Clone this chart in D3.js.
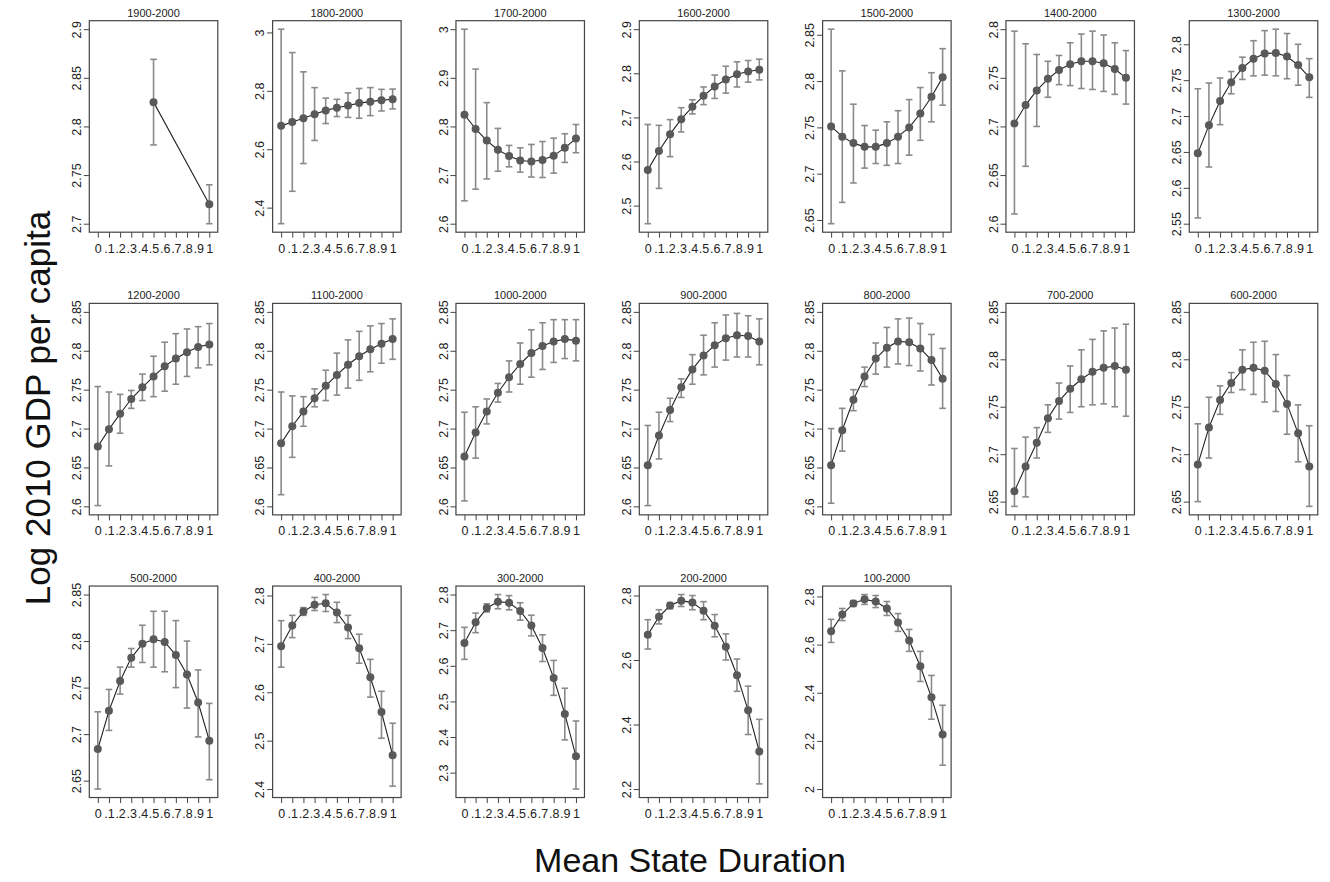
<!DOCTYPE html>
<html>
<head>
<meta charset="utf-8">
<script src="https://cdn.jsdelivr.net/npm/d3@7"></script>
<style>
  body { margin: 0; background: #fff; }
  text { font-family: "Liberation Sans", Arial, sans-serif; }
</style>
</head>
<body>
<svg id="chart" width="1330" height="882"></svg>
<script>
// Panel titles (period of the sample)
const panelTitles = ['1900-2000', '1800-2000', '1700-2000', '1600-2000', '1500-2000', '1400-2000', '1300-2000',
    '1200-2000', '1100-2000', '1000-2000', '900-2000', '800-2000', '700-2000', '600-2000',
    '500-2000', '400-2000', '300-2000', '200-2000', '100-2000'];

// Mean state duration values on the x axis
const xValues = [0, 0.1, 0.2, 0.3, 0.4, 0.5, 0.6, 0.7, 0.8, 0.9, 1];

// Predicted log GDP per capita, one row per panel
const meanValues = [
    [null, null, null, null, null, 2.825, null, null, null, null, 2.720],
    [2.680, 2.693, 2.706, 2.720, 2.733, 2.742, 2.750, 2.758, 2.763, 2.768, 2.771],
    [2.824, 2.795, 2.771, 2.752, 2.739, 2.730, 2.728, 2.731, 2.740, 2.756, 2.775],
    [2.581, 2.624, 2.662, 2.696, 2.724, 2.749, 2.770, 2.786, 2.798, 2.804, 2.808],
    [2.751, 2.740, 2.733, 2.729, 2.729, 2.733, 2.740, 2.750, 2.765, 2.783, 2.804],
    [2.703, 2.722, 2.737, 2.749, 2.758, 2.764, 2.767, 2.767, 2.765, 2.759, 2.750],
    [2.648, 2.687, 2.721, 2.747, 2.767, 2.780, 2.787, 2.788, 2.783, 2.771, 2.754],
    [2.677, 2.699, 2.719, 2.738, 2.753, 2.767, 2.780, 2.790, 2.798, 2.805, 2.808],
    [2.681, 2.703, 2.722, 2.739, 2.755, 2.769, 2.782, 2.793, 2.802, 2.809, 2.815],
    [2.664, 2.695, 2.722, 2.746, 2.766, 2.783, 2.797, 2.806, 2.812, 2.815, 2.813],
    [2.653, 2.691, 2.724, 2.753, 2.776, 2.794, 2.807, 2.816, 2.820, 2.819, 2.812],
    [2.653, 2.698, 2.737, 2.767, 2.790, 2.804, 2.812, 2.811, 2.803, 2.788, 2.764],
    [2.661, 2.687, 2.712, 2.738, 2.756, 2.769, 2.779, 2.787, 2.791, 2.793, 2.789],
    [2.689, 2.728, 2.757, 2.775, 2.789, 2.791, 2.788, 2.774, 2.753, 2.722, 2.687],
    [2.684, 2.725, 2.757, 2.782, 2.797, 2.802, 2.799, 2.785, 2.764, 2.734, 2.693],
    [2.695, 2.738, 2.767, 2.781, 2.784, 2.765, 2.734, 2.691, 2.631, 2.559, 2.470],
    [2.664, 2.722, 2.762, 2.780, 2.777, 2.754, 2.713, 2.650, 2.566, 2.465, 2.346],
    [2.678, 2.734, 2.769, 2.784, 2.778, 2.753, 2.706, 2.641, 2.553, 2.444, 2.316],
    [2.655, 2.725, 2.771, 2.788, 2.779, 2.750, 2.692, 2.617, 2.510, 2.381, 2.227]
];

// Lower bound of the confidence interval
const ciLower = [
    [null, null, null, null, null, 2.781, null, null, null, null, 2.700],
    [2.345, 2.456, 2.551, 2.630, 2.688, 2.712, 2.709, 2.706, 2.715, 2.731, 2.738],
    [2.647, 2.671, 2.692, 2.708, 2.717, 2.706, 2.696, 2.695, 2.704, 2.726, 2.746],
    [2.459, 2.539, 2.611, 2.667, 2.708, 2.729, 2.743, 2.755, 2.769, 2.780, 2.785],
    [2.646, 2.669, 2.690, 2.706, 2.711, 2.709, 2.711, 2.720, 2.736, 2.756, 2.774],
    [2.610, 2.659, 2.700, 2.730, 2.743, 2.742, 2.739, 2.738, 2.736, 2.733, 2.723],
    [2.558, 2.629, 2.688, 2.731, 2.751, 2.756, 2.757, 2.756, 2.752, 2.743, 2.726],
    [2.601, 2.652, 2.694, 2.726, 2.736, 2.741, 2.748, 2.757, 2.767, 2.778, 2.782],
    [2.615, 2.663, 2.703, 2.728, 2.736, 2.743, 2.752, 2.762, 2.773, 2.784, 2.789],
    [2.607, 2.662, 2.706, 2.734, 2.747, 2.757, 2.766, 2.776, 2.785, 2.790, 2.787],
    [2.601, 2.661, 2.709, 2.740, 2.757, 2.769, 2.779, 2.788, 2.792, 2.792, 2.782],
    [2.604, 2.671, 2.723, 2.754, 2.770, 2.779, 2.783, 2.781, 2.774, 2.756, 2.726],
    [2.645, 2.655, 2.696, 2.723, 2.737, 2.744, 2.750, 2.752, 2.753, 2.750, 2.740],
    [2.650, 2.696, 2.742, 2.765, 2.768, 2.763, 2.755, 2.745, 2.721, 2.692, 2.645],
    [2.641, 2.704, 2.743, 2.772, 2.777, 2.772, 2.767, 2.750, 2.728, 2.697, 2.651],
    [2.652, 2.713, 2.759, 2.769, 2.767, 2.744, 2.711, 2.660, 2.590, 2.505, 2.406],
    [2.618, 2.693, 2.751, 2.760, 2.757, 2.728, 2.684, 2.612, 2.517, 2.392, 2.254],
    [2.634, 2.712, 2.759, 2.766, 2.756, 2.725, 2.672, 2.600, 2.503, 2.369, 2.216],
    [2.609, 2.700, 2.759, 2.767, 2.754, 2.721, 2.655, 2.572, 2.447, 2.290, 2.099]
];

// Upper bound of the confidence interval
const ciUpper = [
    [null, null, null, null, null, 2.869, null, null, null, null, 2.740],
    [3.011, 2.931, 2.865, 2.811, 2.775, 2.771, 2.793, 2.808, 2.811, 2.805, 2.806],
    [3.000, 2.918, 2.849, 2.796, 2.761, 2.756, 2.763, 2.769, 2.776, 2.785, 2.804],
    [2.684, 2.682, 2.695, 2.722, 2.740, 2.769, 2.796, 2.816, 2.826, 2.829, 2.832],
    [2.856, 2.811, 2.775, 2.752, 2.747, 2.756, 2.768, 2.780, 2.793, 2.809, 2.835],
    [2.798, 2.785, 2.774, 2.767, 2.773, 2.786, 2.795, 2.798, 2.794, 2.786, 2.778],
    [2.738, 2.746, 2.753, 2.762, 2.782, 2.805, 2.819, 2.821, 2.815, 2.800, 2.780],
    [2.754, 2.747, 2.744, 2.749, 2.770, 2.793, 2.811, 2.822, 2.828, 2.831, 2.835],
    [2.747, 2.742, 2.741, 2.751, 2.775, 2.797, 2.814, 2.825, 2.832, 2.835, 2.841],
    [2.721, 2.728, 2.738, 2.758, 2.787, 2.810, 2.827, 2.836, 2.840, 2.840, 2.840],
    [2.704, 2.721, 2.739, 2.764, 2.795, 2.820, 2.836, 2.846, 2.848, 2.845, 2.841],
    [2.700, 2.726, 2.750, 2.779, 2.810, 2.830, 2.841, 2.842, 2.835, 2.821, 2.803],
    [2.706, 2.718, 2.728, 2.752, 2.775, 2.793, 2.810, 2.821, 2.830, 2.833, 2.837],
    [2.732, 2.760, 2.772, 2.786, 2.810, 2.818, 2.819, 2.805, 2.783, 2.752, 2.730],
    [2.724, 2.748, 2.772, 2.792, 2.817, 2.832, 2.832, 2.822, 2.800, 2.769, 2.733],
    [2.748, 2.759, 2.775, 2.796, 2.802, 2.786, 2.759, 2.720, 2.668, 2.602, 2.536],
    [2.708, 2.748, 2.774, 2.800, 2.797, 2.777, 2.742, 2.687, 2.615, 2.537, 2.445],
    [2.725, 2.756, 2.778, 2.803, 2.800, 2.781, 2.741, 2.681, 2.603, 2.519, 2.416],
    [2.705, 2.750, 2.783, 2.808, 2.804, 2.779, 2.729, 2.663, 2.572, 2.472, 2.348]
];

// Y tick labels for each panel
const yTickValues = [
    [2.7, 2.75, 2.8, 2.85, 2.9],
    [2.4, 2.6, 2.8, 3],
    [2.6, 2.7, 2.8, 2.9, 3],
    [2.5, 2.6, 2.7, 2.8, 2.9],
    [2.65, 2.7, 2.75, 2.8, 2.85],
    [2.6, 2.65, 2.7, 2.75, 2.8],
    [2.55, 2.6, 2.65, 2.7, 2.75, 2.8],
    [2.6, 2.65, 2.7, 2.75, 2.8, 2.85],
    [2.6, 2.65, 2.7, 2.75, 2.8, 2.85],
    [2.6, 2.65, 2.7, 2.75, 2.8, 2.85],
    [2.6, 2.65, 2.7, 2.75, 2.8, 2.85],
    [2.6, 2.65, 2.7, 2.75, 2.8, 2.85],
    [2.65, 2.7, 2.75, 2.8, 2.85],
    [2.65, 2.7, 2.75, 2.8, 2.85],
    [2.65, 2.7, 2.75, 2.8, 2.85],
    [2.4, 2.5, 2.6, 2.7, 2.8],
    [2.3, 2.4, 2.5, 2.6, 2.7, 2.8],
    [2.2, 2.4, 2.6, 2.8],
    [2, 2.2, 2.4, 2.6, 2.8]
];

// Grid layout
const colLeft = 89.3, colStep = 183.33;
const rowTop = 20.7, rowStep = 282.67;
const boxW = 128.5, boxH = 211.5, pad = 8.5;

const svg = d3.select('#chart');

// Stata style labels: drop trailing zeros and the leading zero
const fmtX = v => v === 0 ? '0' : (v === 1 ? '1' : String(v).replace(/^0/, ''));
const fmtY = v => String(+v.toFixed(2));

panelTitles.forEach((title, i) => {
    const left = colLeft + (i % 7) * colStep;
    const top = rowTop + Math.floor(i / 7) * rowStep;

    const pts = xValues.map((x, j) => ({ x: x, m: meanValues[i][j], lo: ciLower[i][j], hi: ciUpper[i][j] }))
        .filter(d => d.m != null);

    const ticks = yTickValues[i];
    const yMin = Math.min(ticks[0], d3.min(pts, d => d.lo));
    const yMax = Math.max(ticks[ticks.length - 1], d3.max(pts, d => d.hi));

    const x = d3.scaleLinear().domain([0, 1]).range([left + pad, left + boxW - pad]);
    const y = d3.scaleLinear().domain([yMin, yMax]).range([top + boxH - pad, top + pad]);

    const g = svg.append('g');

    // frame of the plot region
    g.append('rect')
        .attr('x', left).attr('y', top)
        .attr('width', boxW).attr('height', boxH)
        .attr('fill', '#fff')
        .attr('stroke', '#444')
        .attr('stroke-width', 1.2);

    // x axis
    const xAxis = g.append('g')
        .attr('transform', `translate(0,${top + boxH})`)
        .call(d3.axisBottom(x).tickValues(xValues).tickFormat(fmtX).tickSize(5.5).tickSizeOuter(0).tickPadding(6));
    xAxis.select('.domain').remove();
    xAxis.selectAll('line').attr('stroke', '#444');
    xAxis.selectAll('text').attr('fill', '#222').style('font-size', '12.5px')
        .style('font-family', '"Liberation Sans", Arial, sans-serif');

    // y axis with rotated labels
    const yAxis = g.append('g')
        .attr('transform', `translate(${left},0)`)
        .call(d3.axisLeft(y).tickValues(ticks).tickFormat(fmtY).tickSize(5.5).tickSizeOuter(0));
    yAxis.select('.domain').remove();
    yAxis.selectAll('line').attr('stroke', '#444');
    yAxis.selectAll('text')
        .attr('transform', 'rotate(-90)')
        .attr('x', 0).attr('y', -12.6).attr('dy', '0.35em')
        .attr('fill', '#222')
        .style('text-anchor', 'middle')
        .style('font-size', '12.5px')
        .style('font-family', '"Liberation Sans", Arial, sans-serif');

    // confidence intervals with caps
    const bars = g.selectAll('.ci').data(pts).enter().append('g').attr('class', 'ci')
        .attr('stroke', '#8a8a8a').attr('stroke-width', 1.6);
    bars.append('line')
        .attr('x1', d => x(d.x)).attr('x2', d => x(d.x))
        .attr('y1', d => y(d.lo)).attr('y2', d => y(d.hi));
    bars.append('line')
        .attr('x1', d => x(d.x) - 3.3).attr('x2', d => x(d.x) + 3.3)
        .attr('y1', d => y(d.lo)).attr('y2', d => y(d.lo));
    bars.append('line')
        .attr('x1', d => x(d.x) - 3.3).attr('x2', d => x(d.x) + 3.3)
        .attr('y1', d => y(d.hi)).attr('y2', d => y(d.hi));

    // connected line
    g.append('path')
        .datum(pts)
        .attr('fill', 'none')
        .attr('stroke', '#222')
        .attr('stroke-width', 1.1)
        .attr('d', d3.line().x(d => x(d.x)).y(d => y(d.m)));

    // markers
    g.selectAll('.dot').data(pts).enter().append('circle')
        .attr('class', 'dot')
        .attr('cx', d => x(d.x)).attr('cy', d => y(d.m))
        .attr('r', 4)
        .attr('fill', '#595959');

    // panel title
    g.append('text')
        .attr('x', left + boxW / 2).attr('y', top - 4)
        .attr('text-anchor', 'middle')
        .attr('fill', '#222')
        .style('font-size', '11px')
        .text(title);
});

// axis titles
svg.append('text')
    .attr('transform', 'translate(38,408) rotate(-90)')
    .attr('text-anchor', 'middle')
    .attr('dy', '0.35em')
    .attr('fill', '#111')
    .style('font-size', '35px')
    .text('Log 2010 GDP per capita');

svg.append('text')
    .attr('x', 690).attr('y', 872)
    .attr('text-anchor', 'middle')
    .attr('fill', '#111')
    .style('font-size', '34px')
    .text('Mean State Duration');
</script>
</body>
</html>
